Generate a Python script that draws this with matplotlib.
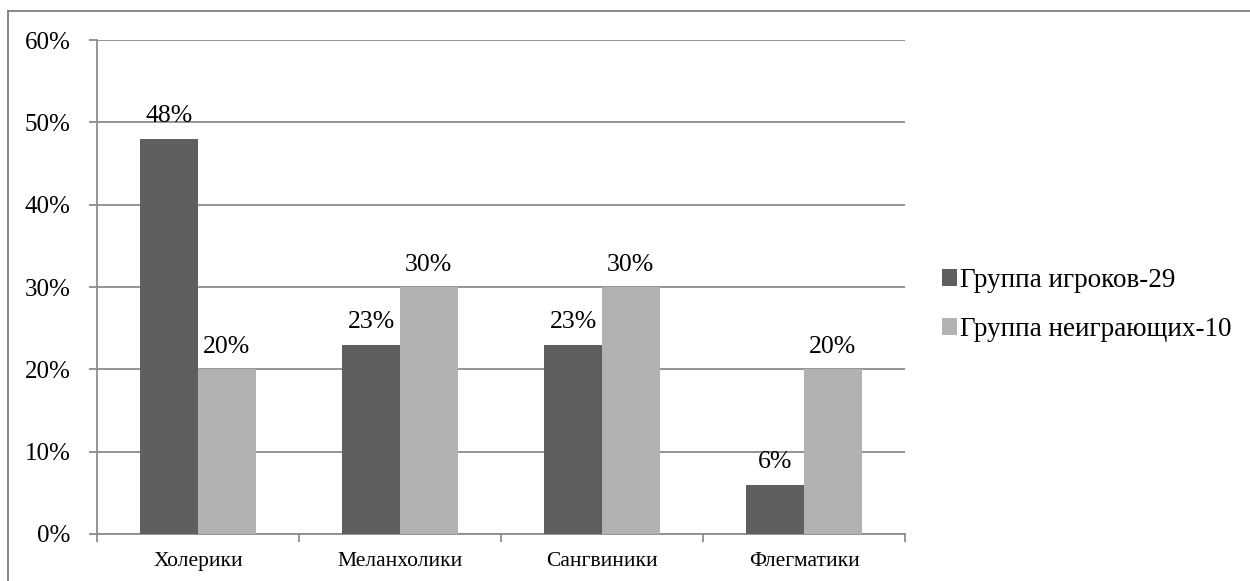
import matplotlib
matplotlib.use("Agg")
import matplotlib.pyplot as plt
from matplotlib.lines import Line2D
from matplotlib.patches import Patch
import numpy as np

plt.rcParams['font.family'] = ['Liberation Serif', 'DejaVu Serif']

categories = ["Холерики", "Меланхолики", "Сангвиники", "Флегматики"]
series_names = ["Группа игроков-29", "Группа неиграющих-10"]
players = [48, 23, 23, 6]
non_players = [20, 30, 30, 20]
y_ticks = [0, 10, 20, 30, 40, 50, 60]

dark = "#5f5f5f"
light = "#b2b2b2"
grid_col = "#8c8c8c"

fig = plt.figure(figsize=(12.5, 5.81), dpi=100)
W, H = 1250, 581
ax = fig.add_axes([97 / W, 1 - 534 / H, (905 - 97) / W, (534 - 40) / H])

x = np.arange(len(categories))
bw = 0.285
b1 = ax.bar(x - bw / 2, players, bw, color=dark, zorder=3)
b2 = ax.bar(x + bw / 2, non_players, bw, color=light, zorder=3)

for bars, vals in ((b1, players), (b2, non_players)):
    for rect, v in zip(bars, vals):
        ax.text(rect.get_x() + rect.get_width() / 2, v + 2.0, f"{v}%",
                ha="center", va="baseline", fontsize=18.5, color="black")

ax.set_xlim(-0.5, len(categories) - 0.5)
ax.set_ylim(0, 60)
ax.set_yticks(y_ticks)
ax.set_yticklabels([f"{t}%" for t in y_ticks], fontsize=18)
ax.yaxis.grid(True, color=grid_col, linewidth=1.3, zorder=0)
ax.tick_params(axis="y", length=6, width=1.3, color=grid_col, pad=13)

ax.set_xticks(np.arange(-0.5, len(categories), 1.0))
ax.set_xticklabels([])
ax.tick_params(axis="x", length=6, width=1.3, color=grid_col)
for xi, c in zip(x, categories):
    ax.text(xi, -2.2, c, ha="center", va="top", fontsize=15.5,
            transform=ax.transData)

for side in ("top", "right"):
    ax.spines[side].set_visible(False)
for side in ("left", "bottom"):
    ax.spines[side].set_color(grid_col)
    ax.spines[side].set_linewidth(1.3)

handles = [Patch(facecolor=dark), Patch(facecolor=light)]
fig.legend(handles, series_names, loc="center left",
           bbox_to_anchor=(942 / W, 1 - 305 / H), frameon=False,
           fontsize=19.5, handlelength=0.56, handleheight=0.56,
           handletextpad=0.12, labelspacing=0.88, borderpad=0.0,
           borderaxespad=0.0)

# frame lines along the left and top edges of the figure
fig.add_artist(Line2D([8 / W, 8 / W], [0, 1 - 11 / H], color="#7f7f7f",
                      linewidth=1.3, transform=fig.transFigure))
fig.add_artist(Line2D([8 / W, 1], [1 - 11 / H, 1 - 11 / H], color="#7f7f7f",
                      linewidth=1.3, transform=fig.transFigure))

fig.savefig("out.png", dpi=100, facecolor="white")
